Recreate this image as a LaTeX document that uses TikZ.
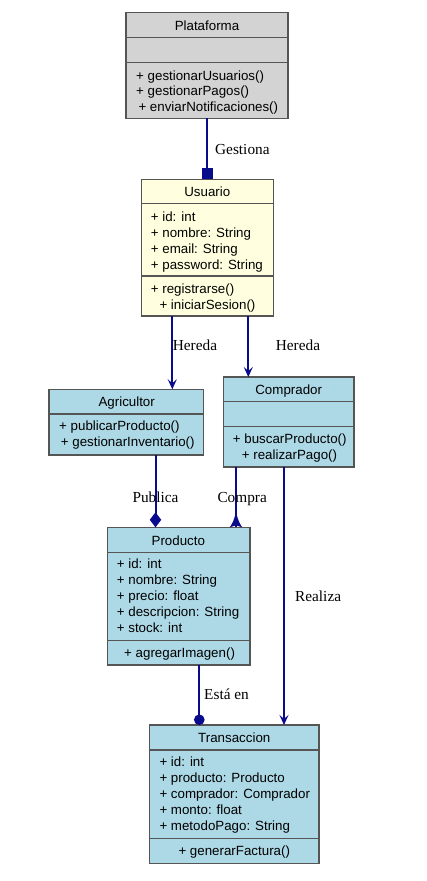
\documentclass[tikz,border=0pt]{standalone}
\usepackage{fontspec}
\setmainfont{Liberation Serif}
\setsansfont{Liberation Sans}
\usetikzlibrary{arrows.meta}
\definecolor{edgeblue}{RGB}{10,10,140}
\definecolor{boxline}{RGB}{85,85,85}
\definecolor{lblue}{HTML}{ADD8E6}
\definecolor{lyellow}{HTML}{FFFFE0}
\definecolor{lgray}{HTML}{D3D3D3}
\tikzset{
  cls/.style={draw=boxline, line width=1.4pt, inner sep=0pt, outer sep=0pt},
  sepline/.style={draw=boxline, line width=1.2pt},
  txt/.style={font=\sffamily\fontsize{13.33}{16}\selectfont, anchor=base west, inner sep=0pt, text=black},
  hdr/.style={font=\sffamily\fontsize{13.33}{16}\selectfont, anchor=base, inner sep=0pt, text=black},
  lbl/.style={font=\rmfamily\fontsize{15.3}{18}\selectfont, anchor=base west, inner sep=0pt, text=black},
  edge/.style={draw=edgeblue, line width=2pt},
  veeend/.style={-{Stealth[length=10pt,width=9pt,inset=4pt]}},
}
\begin{document}
\begin{tikzpicture}[x=1pt,y=-1pt]
\useasboundingbox[fill=white] (0,0) rectangle (426,881);

% ---------- Plataforma ----------
\node[cls, fill=lgray, minimum width=162pt, minimum height=105.5pt] (plat) at (207,65.5) {};
\draw[sepline] (plat.west |- 0,37.3) -- (plat.east |- 0,37.3);
\draw[sepline] (plat.west |- 0,62.3) -- (plat.east |- 0,62.3);
\node[hdr] (platT) at (207,30) {Plataforma};
\node[txt] (platM1) at (136,80) {+ gestionarUsuarios()};
\node[txt] (platM2) at (136,95.7) {+ gestionarPagos()};
\node[txt] (platM3) at (138.3,111.3) {+ enviarNotificaciones()};

% ---------- Usuario ----------
\node[cls, fill=lyellow, minimum width=131.6pt, minimum height=136.7pt] (usu) at (207.5,247.65) {};
\draw[sepline] (usu.west |- 0,203.3) -- (usu.east |- 0,203.3);
\draw[sepline] (usu.west |- 0,276) -- (usu.east |- 0,276);
\node[hdr] (usuT) at (207.3,196) {Usuario};
\node[txt] (usuA1) at (150.7,221.3) {+ id: int};
\node[txt] (usuA2) at (150.7,237.3) {+ nombre: String};
\node[txt] (usuA3) at (150.7,253.3) {+ email: String};
\node[txt] (usuA4) at (150.7,269.3) {+ password: String};
\node[txt] (usuM1) at (150.7,293.3) {+ registrarse()};
\node[txt] (usuM2) at (159.3,309) {+ iniciarSesion()};

% ---------- Agricultor ----------
\node[cls, fill=lblue, minimum width=154.3pt, minimum height=65.7pt] (agr) at (126.15,422.15) {};
\draw[sepline] (agr.west |- 0,414) -- (agr.east |- 0,414);
\node[hdr] (agrT) at (126.7,406) {Agricultor};
\node[txt] (agrM1) at (59,430.7) {+ publicarProducto()};
\node[txt] (agrM2) at (60.7,446.7) {+ gestionarInventario()};

% ---------- Comprador ----------
\node[cls, fill=lblue, minimum width=130.7pt, minimum height=90pt] (comp) at (288.65,422) {};
\draw[sepline] (comp.west |- 0,401.3) -- (comp.east |- 0,401.3);
\draw[sepline] (comp.west |- 0,426.7) -- (comp.east |- 0,426.7);
\node[hdr] (compT) at (288.7,394) {Comprador};
\node[txt] (compM1) at (232.7,443.3) {+ buscarProducto()};
\node[txt] (compM2) at (241.7,459.3) {+ realizarPago()};

% ---------- Producto ----------
\node[cls, fill=lblue, minimum width=142.7pt, minimum height=137.7pt] (prod) at (178.65,596.15) {};
\draw[sepline] (prod.west |- 0,552.3) -- (prod.east |- 0,552.3);
\draw[sepline] (prod.west |- 0,640.7) -- (prod.east |- 0,640.7);
\node[hdr] (prodT) at (178.3,545) {Producto};
\node[txt] (prodA1) at (116.7,568.3) {+ id: int};
\node[txt] (prodA2) at (116.7,584.3) {+ nombre: String};
\node[txt] (prodA3) at (116.7,600.3) {+ precio: float};
\node[txt] (prodA4) at (116.7,616.3) {+ descripcion: String};
\node[txt] (prodA5) at (116.7,632.3) {+ stock: int};
\node[txt] (prodM1) at (124,657.7) {+ agregarImagen()};

% ---------- Transaccion ----------
\node[cls, fill=lblue, minimum width=169.7pt, minimum height=138.3pt] (trans) at (234.15,794.15) {};
\draw[sepline] (trans.west |- 0,750) -- (trans.east |- 0,750);
\draw[sepline] (trans.west |- 0,838.3) -- (trans.east |- 0,838.3);
\node[hdr] (transT) at (234.3,742.7) {Transaccion};
\node[txt] (transA1) at (159.3,766.7) {+ id: int};
\node[txt] (transA2) at (159.3,782.7) {+ producto: Producto};
\node[txt] (transA3) at (159.3,798.7) {+ comprador: Comprador};
\node[txt] (transA4) at (159.3,814.7) {+ monto: float};
\node[txt] (transA5) at (159.3,830.7) {+ metodoPago: String};
\node[txt] (transM1) at (178.3,855) {+ generarFactura()};

% ---------- connectors ----------
\coordinate (xG) at (207.3,0);
\coordinate (xA) at (172.3,0);
\coordinate (xB) at (248.3,0);
\coordinate (xC) at (155.5,0);
\coordinate (xD) at (236,0);
\coordinate (xE) at (284,0);
\coordinate (xF) at (199.3,0);

\draw[edge, -{Square[length=11pt,width=11.5pt]}] (plat.south -| xG) -- (usu.north -| xG);
\draw[edge, veeend] (usu.south -| xA) -- (agr.north -| xA);
\draw[edge, veeend] (usu.south -| xB) -- (comp.north -| xB);
\draw[edge, -{Diamond[length=15pt,width=11.5pt]}] (agr.south -| xC) -- (prod.north -| xC);
\draw[edge] (comp.south -| xD) -- (prod.north -| xD);
\coordinate (crow) at (prod.north -| xD);
\fill[edgeblue] ([xshift=-6.2pt]crow) .. controls ([xshift=-3pt,yshift=5pt]crow) .. ([yshift=14.5pt]crow)
   .. controls ([xshift=3pt,yshift=5pt]crow) .. ([xshift=6.2pt]crow)
   -- ([yshift=2pt]crow) -- cycle;
\draw[edge, veeend] (comp.south -| xE) -- (trans.north -| xE);
\draw[edge, -{Circle[length=10.5pt]}] (prod.south -| xF) -- (trans.north -| xF);

% ---------- labels ----------
\node[lbl] (lGest) at (215,154) {Gestiona};
\node[lbl] (lHer1) at (172.7,350.7) {Hereda};
\node[lbl] (lHer2) at (275.7,350.7) {Hereda};
\node[lbl] (lPub) at (132.3,502.7) {Publica};
\node[lbl] (lComp) at (217.3,502.7) {Compra};
\node[lbl] (lReal) at (295,601) {Realiza};
\node[lbl] (lEsta) at (204,699.3) {Está en};
\end{tikzpicture}
\end{document}
